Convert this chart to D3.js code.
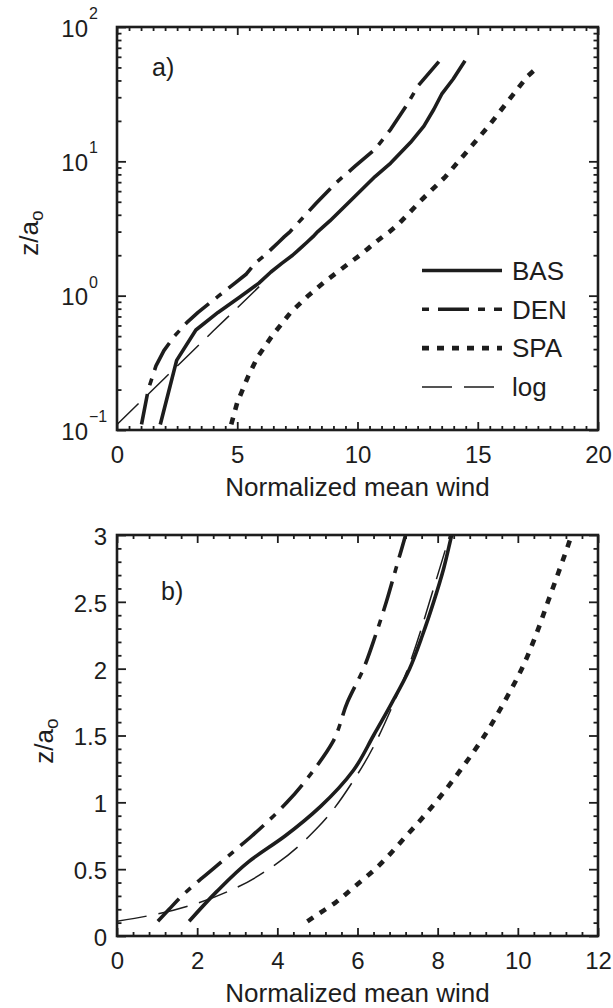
<!DOCTYPE html>
<html>
<head>
<meta charset="utf-8">
<script src="https://cdn.jsdelivr.net/npm/d3@7"></script>
<style>
  html, body { margin: 0; padding: 0; background: #fff; }
  svg { display: block; }
</style>
</head>
<body>
<svg id="fig" width="613" height="1008"></svg>
<script>
// Mean wind profiles, each point is [normalized mean wind, z/a0]
const seriesNames = ["BAS", "DEN", "SPA", "log"];

const bas = [
  [1.80, 0.11], [2.48, 0.33], [3.28, 0.555], [4.20, 0.75], [5.08, 0.97],
  [5.90, 1.24], [6.40, 1.50], [6.85, 1.74], [7.30, 2.00], [7.62, 2.25],
  [7.90, 2.50], [8.15, 2.75], [8.35, 3.00], [8.85, 3.60], [9.76, 5.20],
  [10.73, 7.70], [11.38, 9.70], [12.20, 13.8], [12.76, 18.3], [13.17, 24.3],
  [13.50, 31.6], [13.98, 41.0], [14.47, 56.0]
];

const den = [
  [1.02, 0.11], [1.30, 0.20], [1.62, 0.30], [1.95, 0.39], [2.39, 0.50],
  [2.90, 0.63], [3.37, 0.75], [4.24, 1.00], [4.93, 1.25], [5.38, 1.45],
  [5.75, 1.75], [6.15, 2.00], [6.45, 2.25], [6.72, 2.50], [6.96, 2.75],
  [7.20, 3.00], [8.29, 4.90], [9.10, 6.90], [9.90, 9.20], [10.73, 12.3],
  [11.38, 17.3], [12.03, 25.9], [12.52, 36.5], [13.41, 56.0]
];

const spa = [
  [4.75, 0.11], [5.00, 0.16], [5.45, 0.25], [5.85, 0.35], [6.44, 0.50],
  [7.22, 0.75], [7.95, 1.00], [8.59, 1.25], [9.17, 1.50], [9.66, 1.75],
  [10.10, 2.00], [10.45, 2.25], [10.75, 2.50], [11.05, 2.75], [11.34, 3.00],
  [11.70, 3.40], [12.68, 5.20], [13.66, 7.70], [14.63, 12.3], [15.45, 18.3],
  [16.42, 30.6], [17.07, 43.0], [17.56, 51.5]
];

const logLaw = [
  [0, 0.11], [1, 0.164], [2, 0.245], [3, 0.365], [4, 0.545],
  [5, 0.81], [6, 1.21], [7, 1.81], [8, 2.70], [8.35, 3.05]
];
// upper end of the log-law reference shown on the logarithmic panel
const logTopA = 1.21;

const xTicksA = [0, 5, 10, 15, 20];
const yTicksA = [0.1, 1, 10, 100];
const yExpA = ["\u22121", "0", "1", "2"];
const xTicksB = [0, 2, 4, 6, 8, 10, 12];
const yTicksB = [0, 0.5, 1, 1.5, 2, 2.5, 3];

const FONT = "'Liberation Sans', Arial, Helvetica, sans-serif";
const INK = "#1d1d1d";

const styles = {
  BAS: { width: 3.6, dash: null,        legendDash: null },
  DEN: { width: 3.6, dash: "31,9,7,9",  legendDash: "7,9,31,9" },
  SPA: { width: 4.6, dash: "7,8",       legendDash: "7,8" },
  log: { width: 1.5, dash: "30,12",     legendDash: "30,12" }
};
const dataByName = { BAS: bas, DEN: den, SPA: spa, log: logLaw };

const svg = d3.select("#fig").attr("font-family", FONT);

// ---------- panel geometry and scales ----------
const boxA = { l: 117, r: 598, t: 27, b: 430 };
const boxB = { l: 117, r: 598, t: 535, b: 936 };

const xA = d3.scaleLinear().domain([0, 20]).range([boxA.l, boxA.r]);
const yA = d3.scaleLog().domain([0.1, 100]).range([boxA.b, boxA.t]);
const xB = d3.scaleLinear().domain([0, 12]).range([boxB.l, boxB.r]);
const yB = d3.scaleLinear().domain([0, 3]).range([boxB.b, boxB.t]);

// minor tick positions
const xMinorA = d3.range(0, 41).map(i => i * 0.5).filter(v => v % 5 !== 0);
const yMinorA = [];
[0.1, 1, 10].forEach(dec => d3.range(2, 10).forEach(k => yMinorA.push(k * dec)));
const xMinorB = d3.range(0, 31).filter(i => i % 5 !== 0).map(i => i * 0.4);
const yMinorB = d3.range(0, 31).filter(i => i % 5 !== 0).map(i => i * 0.1);

function clip(id, box) {
  svg.append("clipPath").attr("id", id)
    .append("rect").attr("x", box.l).attr("y", box.t)
    .attr("width", box.r - box.l).attr("height", box.b - box.t);
}
clip("clipA", boxA);
clip("clipB", boxB);

function drawCurves(id, x, y, curve, filterFn) {
  const g = svg.append("g").attr("clip-path", `url(#${id})`);
  seriesNames.forEach(name => {
    const st = styles[name];
    const pts = dataByName[name].filter(d => filterFn(name, d));
    const line = d3.line().x(d => x(d[0])).y(d => y(d[1])).curve(curve);
    g.append("path")
      .attr("d", line(pts))
      .attr("fill", "none")
      .attr("stroke", INK)
      .attr("stroke-width", st.width)
      .attr("stroke-linejoin", "round")
      .attr("stroke-dasharray", st.dash);
  });
}

function drawAxes(box, x, y, o) {
  const g = svg.append("g");
  const ax = (gen, tx, ty) => {
    const s = g.append("g").attr("transform", `translate(${tx},${ty})`).call(gen);
    s.select(".domain").remove();
    s.attr("font-family", FONT).attr("font-size", 24);
    s.selectAll("line").attr("stroke", INK).attr("stroke-width", 1.8);
    return s;
  };
  // minor ticks on all four sides
  ax(d3.axisBottom(x).tickValues(o.xMinor).tickSize(-4).tickFormat(""), 0, box.b);
  ax(d3.axisTop(x).tickValues(o.xMinor).tickSize(-4).tickFormat(""), 0, box.t);
  ax(d3.axisLeft(y).tickValues(o.yMinor).tickSize(-4.5).tickFormat(""), box.l, 0);
  ax(d3.axisRight(y).tickValues(o.yMinor).tickSize(-4.5).tickFormat(""), box.r, 0);
  // major ticks
  const bx = ax(d3.axisBottom(x).tickValues(o.xMajor).tickSize(-8).tickPadding(16)
    .tickFormat(d => String(d)), 0, box.b);
  bx.selectAll("text").attr("fill", INK);
  ax(d3.axisTop(x).tickValues(o.xMajor).tickSize(-8).tickFormat(""), 0, box.t);
  const ly = ax(d3.axisLeft(y).tickValues(o.yMajor).tickSize(-9).tickPadding(10)
    .tickFormat(o.yFormat), box.l, 0);
  ly.selectAll("text").attr("fill", INK).attr("dy", "0.39em");
  ax(d3.axisRight(y).tickValues(o.yMajor).tickSize(-9).tickFormat(""), box.r, 0);
  // box
  g.append("rect")
    .attr("x", box.l).attr("y", box.t)
    .attr("width", box.r - box.l).attr("height", box.b - box.t)
    .attr("fill", "none").attr("stroke", INK).attr("stroke-width", 2.6);
}

function xLabel(box, text) {
  svg.append("text")
    .attr("x", (box.l + box.r) / 2).attr("y", box.b + 66)
    .attr("text-anchor", "middle").attr("font-size", 26).attr("fill", INK)
    .text(text);
}

function yLabel(xBase, yc) {
  const t = svg.append("text")
    .attr("transform", `translate(${xBase},${yc}) rotate(-90)`)
    .attr("text-anchor", "middle").attr("font-size", 26).attr("fill", INK);
  t.append("tspan").text("z/a");
  t.append("tspan").attr("font-size", 19).attr("dy", 5).text("o");
}

// ---------- panel a: logarithmic height ----------
drawCurves("clipA", xA, yA, d3.curveLinear,
  (name, d) => name !== "log" || d[1] <= logTopA);
drawAxes(boxA, xA, yA, {
  xMajor: xTicksA, xMinor: xMinorA,
  yMajor: yTicksA, yMinor: yMinorA, yFormat: () => ""
});
// powers-of-ten labels
const expG = svg.append("g").attr("fill", INK);
yTicksA.forEach((v, i) => {
  expG.append("text").attr("x", 88).attr("y", yA(v) + 9.5)
    .attr("text-anchor", "end").attr("font-size", 24).text("10");
  expG.append("text").attr("x", 89).attr("y", yA(v) - 8)
    .attr("font-size", 16).text(yExpA[i]);
});
xLabel(boxA, "Normalized mean wind");
yLabel(38, 233);
svg.append("text").attr("x", 152).attr("y", 76)
  .attr("font-size", 25).attr("fill", INK).text("a)");

// legend
const leg = svg.append("g");
seriesNames.forEach((name, i) => {
  const yy = 270.5 + i * 38.8;
  const st = styles[name];
  leg.append("line")
    .attr("x1", 422).attr("x2", 502).attr("y1", yy).attr("y2", yy)
    .attr("stroke", INK).attr("stroke-width", st.width)
    .attr("stroke-dasharray", st.legendDash);
  leg.append("text").attr("x", 512).attr("y", yy + 9.3)
    .attr("font-size", 26).attr("fill", INK).text(name);
});

// ---------- panel b: linear height near the surface ----------
drawCurves("clipB", xB, yB, d3.curveMonotoneY, () => true);
drawAxes(boxB, xB, yB, {
  xMajor: xTicksB, xMinor: xMinorB,
  yMajor: yTicksB, yMinor: yMinorB, yFormat: d => String(d)
});
xLabel(boxB, "Normalized mean wind");
yLabel(53, 741);
svg.append("text").attr("x", 161).attr("y", 600)
  .attr("font-size", 25).attr("fill", INK).text("b)");
</script>
</body>
</html>
